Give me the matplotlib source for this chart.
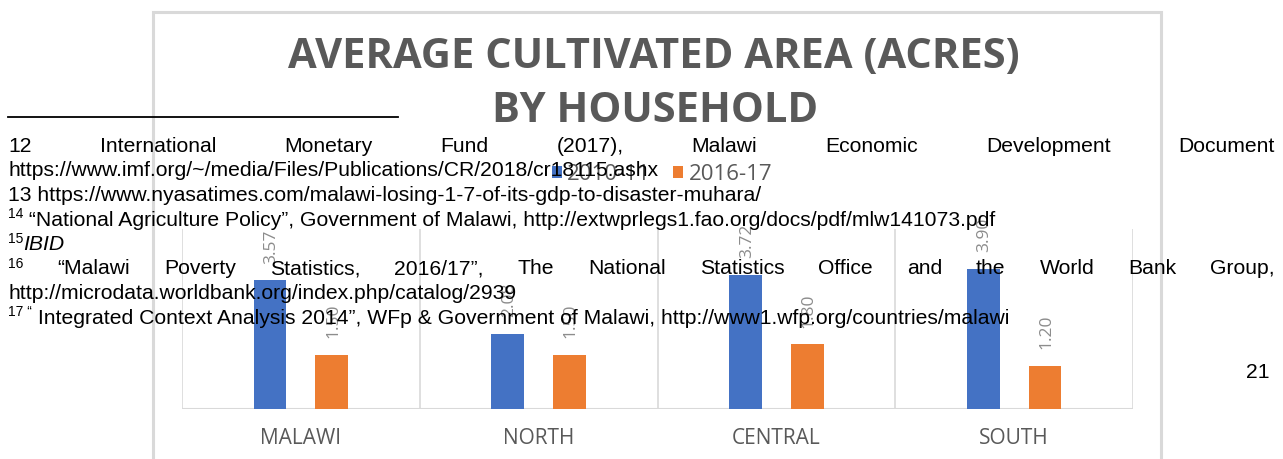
import matplotlib
matplotlib.use("Agg")
import matplotlib.pyplot as plt
from matplotlib.patches import Rectangle
from matplotlib.lines import Line2D

# ---------------- data ----------------
categories = ["MALAWI", "NORTH", "CENTRAL", "SOUTH"]
series_names = ["2010-11", "2016-17"]
values_2010_11 = [3.57, 2.08, 3.72, 3.90]
values_2016_17 = [1.50, 1.50, 1.80, 1.20]
title_lines = ["AVERAGE CULTIVATED AREA (ACRES)", "BY HOUSEHOLD"]

fn1_words = ["12", "International", "Monetary", "Fund", "(2017),", "Malawi",
             "Economic", "Development", "Document"]
fn2_text = "https://www.imf.org/~/media/Files/Publications/CR/2018/cr18115.ashx"
fn3_text = "13 https://www.nyasatimes.com/malawi-losing-1-7-of-its-gdp-to-disaster-muhara/"
fn4_sup, fn4_text = "14", " \u201cNational Agriculture Policy\u201d, Government of Malawi, http://extwprlegs1.fao.org/docs/pdf/mlw141073.pdf"
fn5_sup, fn5_text = "15", "IBID"
fn6_sup = "16"
fn6_words = ["\u201cMalawi", "Poverty", "Statistics,", "2016/17\u201d,", "The", "National",
             "Statistics", "Office", "and", "the", "World", "Bank", "Group,"]
fn7_text = "http://microdata.worldbank.org/index.php/catalog/2939"
fn8_sup, fn8_text = "17 \u201c", " Integrated Context Analysis 2014\u201d, WFp & Government of Malawi, http://www1.wfp.org/countries/malawi"
page_number = "21"

# ---------------- figure ----------------
W, H = 1283, 459
fig = plt.figure(figsize=(W / 100, H / 100), dpi=100)
fig.patch.set_facecolor("white")


def fx(x):
    return x / W


def fy(y):
    return 1 - y / H


# chart frame
fig.patches.append(Rectangle((fx(153), fy(475)), fx(1161) - fx(153), fy(12) - fy(475),
                             transform=fig.transFigure, fill=False,
                             edgecolor="#d9d9d9", lw=2.2, clip_on=False, zorder=0))

# plot area
ax = fig.add_axes([fx(182), fy(409), fx(1133) - fx(182), fy(229) - fy(409)])
ax.set_xlim(-0.5, len(categories) - 0.5)
ax.set_ylim(0, 5)
for s in ax.spines.values():
    s.set_visible(False)
ax.set_facecolor("none")
for b in range(len(categories) + 1):
    ax.axvline(b - 0.5, color="#d9d9d9", lw=1.2, zorder=1)
ax.axhline(0, color="#d9d9d9", lw=2.2, zorder=2)

xs = list(range(len(categories)))
blue, orange = "#4472C4", "#ED7D31"
bw = 0.138
b1 = ax.bar([x - 0.13 for x in xs], values_2010_11, width=bw, color=blue, zorder=3,
            label=series_names[0])
b2 = ax.bar([x + 0.13 for x in xs], values_2016_17, width=bw, color=orange, zorder=3,
            label=series_names[1])

for bars, vals in ((b1, values_2010_11), (b2, values_2016_17)):
    for rect, v in zip(bars, vals):
        ax.annotate(f"{v:.2f}", (rect.get_x() + rect.get_width() / 2, v),
                    xytext=(1, 12), textcoords="offset points", rotation=90,
                    ha="center", va="bottom", fontsize=12.5, color="#8c8c8c",
                    family="Open Sans", zorder=4)

ax.set_yticks([])
ax.set_xticks(xs)
ax.set_xticklabels(categories, family="Open Sans", fontsize=15, color="#595959")
ax.tick_params(axis="x", length=0, pad=14)

# title
fig.text(fx(654), fy(58), title_lines[0], ha="center", va="center", family="Open Sans",
         fontweight="bold", fontsize=30, color="#595959", zorder=2)
fig.text(fx(655), fy(112), title_lines[1], ha="center", va="center", family="Open Sans",
         fontweight="bold", fontsize=30, color="#595959", zorder=2)

# legend
leg = fig.legend(handles=[b1, b2], labels=series_names, loc="center",
                 bbox_to_anchor=(fx(662), fy(174)), ncol=2, frameon=False,
                 handlelength=0.45, handleheight=0.45, handletextpad=0.25,
                 columnspacing=1.0, prop={"family": "Open Sans", "size": 16})
for t in leg.get_texts():
    t.set_color("#595959")
leg.set_zorder(2)

# ---------------- footnotes ----------------
renderer = fig.canvas.get_renderer()
FS = 15.2
SUP = 10
FAM = "Liberation Sans"
X0, X1 = 8, 1275
baselines = [152, 176.5, 201, 225.5, 250, 274.5, 299, 323.5]


def put(x, base, s, size=FS, style="normal", raise_px=0):
    t = fig.text(fx(x), fy(base - raise_px), s, ha="left", va="baseline",
                 family=FAM, fontsize=size, style=style, color="black", zorder=10)
    return t, t.get_window_extent(renderer).width


def justify(items, base):
    objs = []
    total = 0
    for s, size, r in items:
        t, w = put(0, base, s, size=size, raise_px=r)
        objs.append((t, w))
        total += w
    gap = (X1 - X0 - total) / (len(items) - 1)
    x = X0
    for t, w in objs:
        t.set_x(fx(x))
        x += w + gap


justify([(w, FS, 0) for w in fn1_words], baselines[0])
put(X0, baselines[1], fn2_text)
put(X0, baselines[2], fn3_text)
_, w = put(X0, baselines[3], fn4_sup, size=SUP, raise_px=7)
put(X0 + w, baselines[3], fn4_text)
_, w = put(X0, baselines[4], fn5_sup, size=SUP, raise_px=7)
put(X0 + w, baselines[4], fn5_text, style="italic")
justify([(fn6_sup, SUP, 7)] + [(w, FS, 0) for w in fn6_words], baselines[5])
put(X0, baselines[6], fn7_text)
_, w = put(X0, baselines[7], fn8_sup, size=SUP, raise_px=7)
put(X0 + w, baselines[7], fn8_text)

# separator line
fig.lines.append(Line2D([fx(8), fx(398)], [fy(117), fy(117)], transform=fig.transFigure,
                        color="black", lw=1.3, zorder=10))

# page number
fig.text(fx(1258), fy(372), page_number, ha="center", va="center", family=FAM,
         fontsize=FS, color="black", zorder=10)

fig.savefig("out.png", dpi=100)
